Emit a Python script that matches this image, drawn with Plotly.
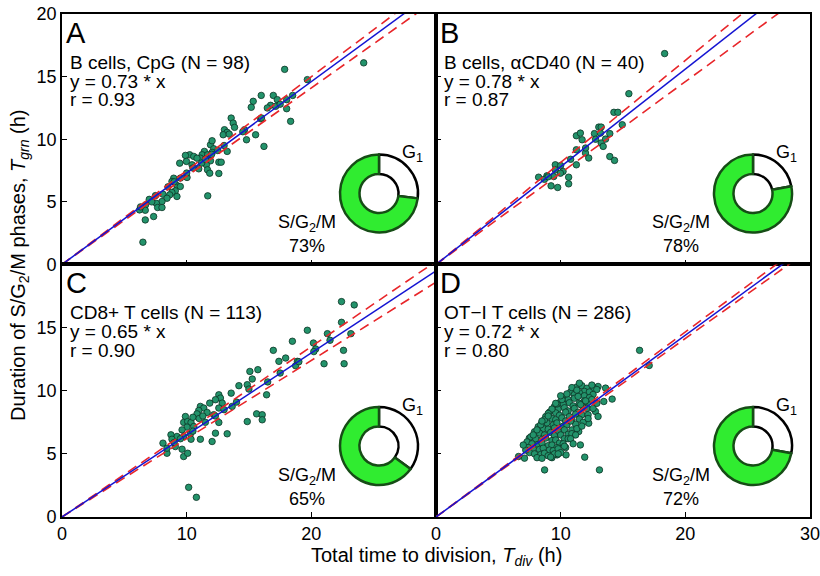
import plotly.graph_objects as go

# ---------------- data ----------------
panel_letters = ["A", "B", "C", "D"]
panel_names = ["B cells, CpG (N = 98)", "B cells, αCD40 (N = 40)",
               "CD8+ T cells (N = 113)", "OT\u2212I T cells (N = 286)"]
slopes = [0.73, 0.78, 0.65, 0.72]
slope_lo = [0.705, 0.73, 0.62, 0.707]
slope_hi = [0.75, 0.815, 0.675, 0.733]
r_values = [0.93, 0.87, 0.90, 0.80]
sg2m_pct = [73, 78, 65, 72]

xA = [17.86, 19.68, 15.98, 16.95, 17.27, 18.02, 15.34, 15.18, 16.73, 17.14, 16.47, 18.02,
      15.93, 18.34, 13.57, 13.73, 13.84, 13.03, 13.25, 12.93, 13.41, 14.64, 15.53, 14.80,
      16.20, 13.25, 11.91, 12.04, 12.17, 12.04, 11.42, 11.24, 11.69, 11.10, 12.58, 12.77,
      11.91, 11.58, 10.24, 9.90, 10.57, 9.44, 9.98, 10.43, 10.97, 11.67, 11.85, 12.58,
      10.03, 8.96, 8.82, 9.22, 9.49, 9.09, 8.82, 8.64, 8.10, 8.42, 9.22, 8.02, 7.56, 7.67,
      8.02, 6.70, 6.68, 6.22, 7.35, 6.68, 11.69, 6.49, 10.83, 24.2,
      7.0, 7.5, 8.5, 9.5, 10.5, 11.2, 12.0, 13.0, 14.5, 16.0, 17.5, 18.5, 6.3, 7.2, 9.0,
      10.0, 11.5, 12.5]
yA = [15.58, 14.76, 13.50, 13.50, 13.16, 13.16, 13.03, 12.55, 12.71, 12.63, 12.50, 12.44,
      11.64, 11.43, 11.69, 11.29, 10.95, 10.76, 10.55, 10.36, 10.41, 10.76, 10.36, 9.96,
      9.43, 9.03, 9.56, 9.88, 9.24, 8.95, 9.03, 8.76, 8.76, 8.49, 8.17, 8.17,
      8.28, 7.96, 8.76, 8.71, 8.63, 8.09, 8.23, 7.96, 7.64, 7.56, 7.29, 7.27,
      6.95, 6.89, 6.63, 6.31, 6.23, 5.88, 5.75, 5.56, 5.61, 5.29, 5.43, 5.03, 4.89, 4.55,
      4.55, 4.76, 4.33, 4.36, 3.83, 3.56, 5.48, 1.78, 8.49, 16.1,
      5.2, 5.5, 6.2, 6.9, 7.7, 8.1, 8.8, 9.5, 10.6, 11.7, 12.8, 13.5, 4.6, 5.0, 6.6,
      7.3, 8.4, 9.1]

xB = [18.34, 15.47, 14.27, 14.59, 14.94, 13.06, 13.25, 11.26, 11.58, 11.72, 12.71, 13.19,
      13.94, 13.60, 13.25, 13.41, 11.26, 11.99, 12.25, 13.94, 14.32, 11.26, 9.57, 9.57,
      10.19, 9.98, 8.23, 8.90, 9.44, 10.64, 10.64, 9.23, 9.76,
      8.7, 9.0, 10.0, 10.8, 12.0, 12.8]
yB = [16.84, 13.64, 12.15, 12.15, 11.16, 10.97, 10.97, 10.28, 10.49, 9.96, 10.45, 10.49,
      10.45, 10.01, 9.70, 9.43, 9.16, 8.90, 8.50, 8.62, 8.31, 7.96, 7.96, 7.56,
      7.43, 7.29, 6.97, 7.08, 7.02, 6.97, 6.44, 6.28, 6.15,
      6.8, 7.0, 7.9, 8.4, 9.3, 10.0]

xC = [22.42, 23.44, 22.42, 23.17, 19.68, 21.29, 18.48, 20.17, 20.35, 16.95, 22.58, 21.02,
      22.63, 17.40, 17.94, 18.88, 18.74, 15.07, 15.71, 15.26, 14.19, 14.86, 14.99, 16.41,
      13.57, 13.65, 12.58, 12.71, 12.31, 12.85, 12.58, 11.85, 11.10, 11.37, 10.97, 11.64,
      12.17, 10.83, 12.58, 13.25, 12.31, 12.04, 11.10, 14.86, 15.61, 16.06, 16.06, 9.90,
      9.76, 10.08, 10.35, 10.57, 10.03, 9.63, 10.30, 9.22, 9.76, 10.35, 8.74, 8.82, 8.10,
      9.09, 9.63, 8.42, 9.76, 10.08, 10.16, 10.78, 8.42,
      9.0, 9.5, 10.5, 11.5, 12.3, 13.0, 14.0, 16.5, 17.5, 19.0, 20.2, 21.5, 10.5, 11.0, 11.3]
yC = [17.06, 16.80, 15.42, 14.52, 14.79, 14.52, 13.92, 13.78, 13.31, 13.20, 13.20, 12.14,
      12.14, 12.33, 12.59, 12.33, 11.98, 11.53, 11.67, 10.93, 10.40, 10.48, 10.13, 9.68,
      9.81, 8.76, 9.68, 9.42, 9.29, 9.02, 8.63, 9.02, 8.76, 8.63, 8.44, 8.28,
      8.10, 8.17, 7.49, 6.59, 6.64, 5.98, 6.16, 7.56, 8.17, 8.10, 7.70, 7.96,
      7.49, 7.56, 7.49, 7.17, 7.12, 6.90, 6.59, 6.38, 6.38, 6.16, 6.51, 6.16, 5.85,
      5.58, 5.37, 5.05, 4.79, 5.05, 2.35, 1.56, 5.45,
      5.9, 6.2, 6.8, 7.5, 8.0, 8.5, 9.1, 10.7, 11.4, 12.3, 13.1, 14.0, 7.9, 7.8, 8.0]

xD = [16.33, 17.1, 13.60, 14.13, 13.00, 12.65, 13.46, 12.79, 13.00, 12.25, 11.45, 11.58,
      11.93, 13.11, 8.71, 10.43, 9.71, 7.10, 6.62, 7.48,
      11.3, 11.7, 12.1, 12.5, 12.9, 11.9, 12.3, 12.6, 11.5,
      10.8, 11.1, 11.5, 11.9, 12.3, 10.9, 11.3,
      10.3, 10.6, 11.1, 11.4, 11.9, 12.2, 12.5, 10.5,
      9.9, 10.2, 10.7, 11.0, 11.5, 11.8, 12.1, 10.1,
      9.5, 9.8, 10.3, 10.6, 11.1, 11.4, 11.7, 9.7,
      9.1, 9.6, 9.9, 10.4, 10.7, 11.2, 11.5, 9.3,
      8.8, 9.3, 9.6, 10.1, 10.4, 10.9, 11.2, 9.0,
      8.5, 8.9, 9.4, 9.7, 10.2, 10.5, 10.9, 8.7,
      8.2, 8.6, 9.0, 9.5, 9.8, 10.3, 10.6, 8.4,
      7.9, 8.3, 8.7, 9.2, 9.5, 10.0, 10.3, 8.1,
      7.6, 8.0, 8.5, 8.8, 9.3, 9.6, 9.9, 7.8,
      7.3, 7.7, 8.2, 8.5, 9.0, 9.3, 9.7,
      7.4, 7.8, 8.3, 8.6, 9.1, 9.4,
      7.5, 7.9, 8.4, 8.7, 9.0, 9.6,
      8.1, 8.5, 9.3, 7.2, 7.0, 10.8, 11.6, 12.0,
      9.8, 10.2, 10.6, 10.0, 10.4, 9.5, 9.2, 10.9, 11.3, 11.8, 12.2, 12.6, 12.9,
      9.0, 8.5, 9.6, 10.0, 11.2, 10.8, 12.2, 11.7, 10.3, 9.8, 11.0]
yD = [13.20, 12.0, 10.21, 9.34, 10.34, 10.21, 9.15, 8.36, 7.96, 7.43, 6.77, 5.71,
      4.74, 3.73, 3.73, 4.92, 4.92, 4.66, 4.79, 6.24,
      10.3, 10.4, 10.2, 10.45, 10.1, 9.95, 9.9, 9.7, 10.6,
      9.9, 9.7, 9.85, 9.6, 9.45, 10.25, 10.05,
      9.5, 9.3, 9.4, 9.55, 9.2, 9.1, 9.3, 9.75,
      9.05, 8.95, 9.05, 8.8, 9.0, 8.7, 8.6, 9.3,
      8.75, 8.55, 8.65, 8.4, 8.6, 8.3, 8.1, 8.95,
      8.3, 8.25, 8.05, 8.3, 7.95, 8.15, 7.75, 8.55,
      7.95, 7.8, 7.7, 7.85, 7.6, 7.7, 7.35, 8.2,
      7.5, 7.45, 7.3, 7.45, 7.2, 7.3, 6.9, 7.7,
      7.15, 7.0, 6.95, 7.05, 6.8, 6.9, 6.55, 7.3,
      6.75, 6.65, 6.5, 6.7, 6.45, 6.5, 6.2, 6.9,
      6.35, 6.2, 6.15, 6.25, 6.05, 6.1, 5.85, 6.5,
      5.95, 5.8, 5.75, 5.85, 5.65, 5.7, 5.5,
      5.5, 5.4, 5.35, 5.45, 5.3, 5.25,
      5.1, 5.0, 4.95, 5.05, 4.85, 5.0,
      4.7, 4.65, 4.7, 5.3, 5.7, 7.6, 8.9, 9.2,
      5.4, 5.8, 6.2, 5.1, 5.5, 5.0, 4.75, 6.6, 7.0, 7.5, 8.1, 8.6, 9.0,
      8.0, 7.6, 9.0, 9.6, 6.5, 6.2, 7.8, 7.2, 5.6, 5.0, 5.8]

xs_all = [xA, xB, xC, xD]
ys_all = [yA, yB, yC, yD]

# ---------------- layout geometry ----------------
W, H = 820, 576
ML, MR, MT, MB = 62, 10, 14, 59
PW = W - ML - MR
PH = H - MT - MB
YSPLIT = 0.502
FONT = "Liberation Sans, Arial, Helvetica, sans-serif"


def paper(px, py):
    return (px - ML) / PW, (H - MB - py) / PH


split_px = H - MB - YSPLIT * PH
boxes = [(ML, MT, ML + PW / 2, split_px), (ML + PW / 2, MT, ML + PW, split_px),
         (ML, split_px, ML + PW / 2, H - MB), (ML + PW / 2, split_px, ML + PW, H - MB)]

fig = go.Figure()
point_color = "#23936b"
for i in range(4):
    xa = "x" if i == 0 else f"x{i+1}"
    ya = "y" if i == 0 else f"y{i+1}"
    fig.add_trace(go.Scatter(x=xs_all[i], y=ys_all[i], mode="markers", xaxis=xa, yaxis=ya,
                             marker=dict(size=6.5, color=point_color,
                                         line=dict(color="#0c3324", width=0.8)),
                             showlegend=False, hoverinfo="skip"))
    for s in (slope_lo[i], slope_hi[i]):
        fig.add_trace(go.Scatter(x=[0, 30], y=[0, 30 * s], mode="lines", xaxis=xa, yaxis=ya,
                                 line=dict(color="#e8262a", width=1.6, dash="10px,6px"),
                                 showlegend=False, hoverinfo="skip"))
    fig.add_trace(go.Scatter(x=[0, 30], y=[0, 30 * slopes[i]], mode="lines", xaxis=xa, yaxis=ya,
                             line=dict(color="#1414d2", width=1.5),
                             showlegend=False, hoverinfo="skip"))

ax_common = dict(showline=True, mirror=True, linecolor="black", linewidth=1.6,
                 ticks="inside", ticklen=5, tickwidth=1.2, tickcolor="black",
                 showgrid=False, zeroline=False, fixedrange=True, ticklabeloverflow="allow",
                 tickfont=dict(family=FONT, size=18, color="black"))
xdoms = [[0, 0.5], [0.5, 1], [0, 0.5], [0.5, 1]]
ydoms = [[YSPLIT, 1], [YSPLIT, 1], [0, YSPLIT], [0, YSPLIT]]
xtext = [["", "", "", ""], ["", "", "", ""], ["0", "10", "20", ""], ["0", "10", "20", "30"]]
ytext = [["0", "5", "10", "15", "20"], [""] * 5, ["0", "5", "10", "15", ""], [""] * 5]
for i in range(4):
    xk = "xaxis" if i == 0 else f"xaxis{i+1}"
    yk = "yaxis" if i == 0 else f"yaxis{i+1}"
    fig.layout[xk] = dict(ax_common, domain=xdoms[i], range=[0, 30], anchor=("y" if i == 0 else f"y{i+1}"),
                          tickvals=[0, 10, 20, 30], ticktext=xtext[i])
    fig.layout[yk] = dict(ax_common, domain=ydoms[i], range=[0, 20], anchor=("x" if i == 0 else f"x{i+1}"),
                          tickvals=[0, 5, 10, 15, 20], ticktext=ytext[i])

annotations = []
for i in range(4):
    L, T, R, B = boxes[i]
    x, y = paper(L + 2, T + 1)
    annotations.append(dict(x=x, y=y, xref="paper", yref="paper", text=panel_letters[i],
                            showarrow=False, xanchor="left", yanchor="top",
                            font=dict(family=FONT, size=29, color="black")))
    for j, t in enumerate([panel_names[i], f"y = {slopes[i]:.2f} * x", f"r = {r_values[i]:.2f}"]):
        x, y = paper(L + 6, T + 48 + 19 * j)
        annotations.append(dict(x=x, y=y, xref="paper", yref="paper", text=t,
                                showarrow=False, xanchor="left", yanchor="middle",
                                font=dict(family=FONT, size=19, color="black")))
    cx, cy = L + 317, B - 71
    r = 39
    x0, y1 = paper(cx - r, cy - r)
    x1, y0 = paper(cx + r, cy + r)
    fig.add_trace(go.Pie(values=[100 - sg2m_pct[i], sg2m_pct[i]], labels=["G1", "S/G2/M"],
                         domain=dict(x=[x0, x1], y=[y0, y1]), hole=0.5, sort=False,
                         direction="clockwise", rotation=0, textinfo="none", hoverinfo="skip",
                         showlegend=False,
                         marker=dict(colors=["white", "#30ec30"],
                                     line=dict(color=["black", "#164d16"], width=2.5))))
    x, y = paper(L + 350, B - 111)
    annotations.append(dict(x=x, y=y, xref="paper", yref="paper", text="G<sub>1</sub>",
                            showarrow=False, xanchor="center", yanchor="middle",
                            font=dict(family=FONT, size=18, color="black")))
    x, y = paper(L + 245, B - 41)
    annotations.append(dict(x=x, y=y, xref="paper", yref="paper", text="S/G<sub>2</sub>/M",
                            showarrow=False, xanchor="center", yanchor="middle",
                            font=dict(family=FONT, size=18, color="black")))
    x, y = paper(L + 245, B - 18)
    annotations.append(dict(x=x, y=y, xref="paper", yref="paper", text=f"{sg2m_pct[i]}%",
                            showarrow=False, xanchor="center", yanchor="middle",
                            font=dict(family=FONT, size=18, color="black")))

x, y = paper(436, 556)
annotations.append(dict(x=x, y=y, xref="paper", yref="paper",
                        text="Total time to division, <i>T<sub>div</sub></i> (h)",
                        showarrow=False, xanchor="center", yanchor="middle",
                        font=dict(family=FONT, size=20, color="black")))
x, y = paper(19, 266)
annotations.append(dict(x=x, y=y, xref="paper", yref="paper",
                        text="Duration of S/G<sub>2</sub>/M phases, <i>T<sub>grn</sub></i> (h)",
                        showarrow=False, xanchor="center", yanchor="middle", textangle=-90,
                        font=dict(family=FONT, size=20, color="black")))

fig.update_layout(width=W, height=H, margin=dict(l=ML, r=MR, t=MT, b=MB, autoexpand=False),
                  paper_bgcolor="white", plot_bgcolor="white",
                  annotations=annotations, showlegend=False)

fig.write_html("out.html", config={"displayModeBar": False})

# remove the default page margin so the figure sits at the window's top-left corner
with open("out.html", encoding="utf-8") as f:
    html = f.read()
html = html.replace("<head>", "<head><style>html,body{margin:0;padding:0;overflow:hidden;}</style>", 1)
with open("out.html", "w", encoding="utf-8") as f:
    f.write(html)
